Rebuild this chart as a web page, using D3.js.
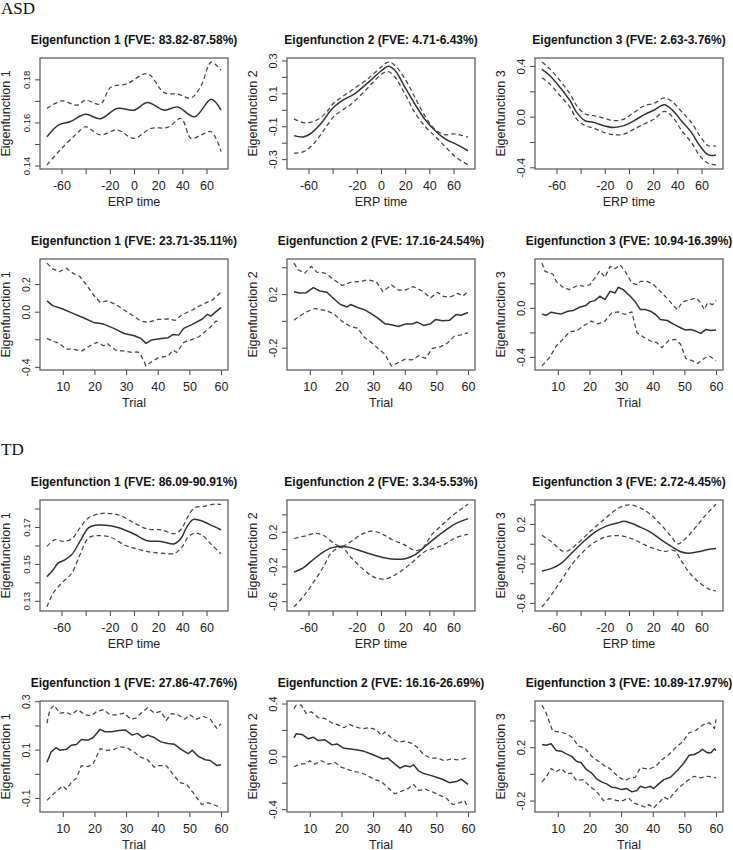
<!DOCTYPE html>
<html><head><meta charset="utf-8">
<script src="https://cdn.jsdelivr.net/npm/d3@7"></script>
<style>body{margin:0;background:#fff} svg{display:block}</style>
</head><body><svg id="c" width="733" height="850"></svg>
<script>
// ---------- titles / labels ----------
const groupNames = ["ASD", "TD"];
const asdErpTitles = ["Eigenfunction 1 (FVE: 83.82-87.58%)", "Eigenfunction 2 (FVE: 4.71-6.43%)", "Eigenfunction 3 (FVE: 2.63-3.76%)"];
const asdTrialTitles = ["Eigenfunction 1 (FVE: 23.71-35.11%)", "Eigenfunction 2 (FVE: 17.16-24.54%)", "Eigenfunction 3 (FVE: 10.94-16.39%)"];
const tdErpTitles = ["Eigenfunction 1 (FVE: 86.09-90.91%)", "Eigenfunction 2 (FVE: 3.34-5.53%)", "Eigenfunction 3 (FVE: 2.72-4.45%)"];
const tdTrialTitles = ["Eigenfunction 1 (FVE: 27.86-47.76%)", "Eigenfunction 2 (FVE: 16.16-26.69%)", "Eigenfunction 3 (FVE: 10.89-17.97%)"];
const yAxisLabels = ["Eigenfunction 1", "Eigenfunction 2", "Eigenfunction 3"];
const xAxisLabels = ["ERP time", "Trial"];

// ---------- tick values / labels ----------
const erpTicks = [-60, -40, -20, 0, 20, 40, 60];
const erpTickLabels = ["-60", "", "-20", "0", "20", "40", "60"];
const trialTicks = [10, 20, 30, 40, 50, 60];
const trialTickLabels = ["10", "20", "30", "40", "50", "60"];

const yTicksAsdErp1 = [0.14, 0.15, 0.16, 0.17, 0.18], yLabAsdErp1 = ["0.14", "", "0.16", "", "0.18"];
const yTicksAsdErp2 = [-0.3, -0.2, -0.1, 0, 0.1, 0.2, 0.3], yLabAsdErp2 = ["-0.3", "", "-0.1", "", "0.1", "", "0.3"];
const yTicksAsdErp3 = [-0.4, -0.2, 0, 0.2, 0.4], yLabAsdErp3 = ["-0.4", "", "0.0", "", "0.4"];
const yTicksAsdTr1 = [-0.4, -0.2, 0, 0.2], yLabAsdTr1 = ["-0.4", "", "0.0", "0.2"];
const yTicksAsdTr2 = [-0.2, 0, 0.2, 0.4], yLabAsdTr2 = ["-0.2", "", "0.2", ""];
const yTicksAsdTr3 = [-0.4, -0.2, 0, 0.2], yLabAsdTr3 = ["-0.4", "", "0.0", ""];
const yTicksTdErp1 = [0.13, 0.14, 0.15, 0.16, 0.17, 0.18], yLabTdErp1 = ["0.13", "", "0.15", "", "0.17", ""];
const yTicksTdErp2 = [-0.6, -0.4, -0.2, 0, 0.2, 0.4], yLabTdErp2 = ["-0.6", "", "-0.2", "", "0.2", ""];
const yTicksTdErp3 = [-0.6, -0.4, -0.2, 0, 0.2, 0.4], yLabTdErp3 = ["-0.6", "", "-0.2", "", "0.2", ""];
const yTicksTdTr1 = [-0.1, 0, 0.1, 0.2, 0.3], yLabTdTr1 = ["-0.1", "", "0.1", "", "0.3"];
const yTicksTdTr2 = [-0.4, -0.2, 0, 0.2, 0.4], yLabTdTr2 = ["-0.4", "", "0.0", "", "0.4"];
const yTicksTdTr3 = [-0.2, 0, 0.2, 0.4], yLabTdTr3 = ["-0.2", "", "0.2", ""];

// ---------- ASD, ERP time ----------
const asdErp1Mean = [[-72,0.1534],[-62.5,0.1588],[-53,0.1603],[-40.3,0.1638],[-27.8,0.1617],[-13.9,0.1665],[0,0.1657],[11.1,0.1692],[25,0.1657],[36.1,0.1672],[50,0.1626],[63.9,0.1708],[72,0.1657]];
const asdErp1Upper = [[-72,0.1665],[-59.7,0.170],[-47.2,0.168],[-40.3,0.1703],[-27.8,0.1685],[-19.4,0.1762],[-5.6,0.178],[11.1,0.1826],[25,0.1738],[36.1,0.1731],[47.2,0.1714],[55.6,0.1772],[63.9,0.188],[72,0.1842]];
const asdErp1Lower = [[-72,0.1403],[-61.1,0.1472],[-47.2,0.1549],[-40.3,0.158],[-27.8,0.1542],[-13.9,0.1565],[0,0.1526],[13.9,0.1572],[27.8,0.1577],[38.9,0.1618],[47.2,0.1526],[55.6,0.1542],[63.9,0.1557],[72,0.1465]];

const asdErp2Mean = [[-72,-0.157],[-64.6,-0.165],[-57.4,-0.14],[-49.1,-0.079],[-40.8,0.003],[-32.6,0.054],[-21.5,0.099],[-10.5,0.167],[0.6,0.239],[6.1,0.265],[11.6,0.239],[19.9,0.136],[28.1,0.034],[36.4,-0.059],[44.7,-0.126],[53,-0.177],[61.2,-0.206],[72,-0.249]];
const asdErp2Upper = [[-72,-0.055],[-63.4,-0.079],[-55.2,-0.069],[-46.9,-0.028],[-38.6,0.044],[-24.8,0.116],[-10.5,0.191],[0.6,0.263],[6.1,0.29],[11.6,0.27],[19.9,0.187],[28.1,0.075],[36.4,-0.038],[44.7,-0.12],[53,-0.151],[61.2,-0.147],[72,-0.167]];
const asdErp2Lower = [[-72,-0.264],[-63.4,-0.253],[-55.2,-0.202],[-46.9,-0.12],[-38.6,-0.038],[-24.8,0.034],[-10.5,0.136],[0.6,0.218],[6.1,0.232],[11.6,0.198],[19.9,0.095],[28.1,-0.018],[36.4,-0.1],[44.7,-0.161],[53,-0.223],[61.2,-0.284],[72,-0.335]];

const asdErp3Time = [-72,-65.6,-57.2,-48.8,-43.3,-36.3,-29.3,-20.9,-12.6,-4.2,4.2,12.6,20.9,29.3,36.3,43.3,51.6,58.6,65.6,72];
const asdErp3Mean = [0.373,0.325,0.233,0.127,0.034,-0.032,-0.045,-0.071,-0.085,-0.071,-0.032,0.016,0.053,0.095,0.048,-0.032,-0.124,-0.23,-0.302,-0.302];
const asdErp3Upper = [0.431,0.378,0.286,0.18,0.087,0.021,0.008,-0.011,-0.032,-0.019,0.034,0.087,0.106,0.148,0.114,0.042,-0.045,-0.151,-0.23,-0.23];
const asdErp3Lower = [0.307,0.259,0.167,0.074,-0.019,-0.071,-0.09,-0.124,-0.143,-0.138,-0.098,-0.058,-0.019,0.042,-0.005,-0.106,-0.204,-0.31,-0.37,-0.381];

// ---------- ASD, Trial ----------
const asdTr1Mean = [[5,0.078],[6.8,0.044],[10,0.019],[13.2,-0.012],[16.5,-0.044],[19.7,-0.078],[22.9,-0.09],[26.1,-0.121],[29.4,-0.158],[32.6,-0.175],[34.7,-0.194],[36.3,-0.23],[38,-0.206],[41.2,-0.194],[43.3,-0.189],[44.9,-0.165],[46.6,-0.17],[48.2,-0.121],[50.9,-0.092],[54.1,-0.053],[55.7,-0.019],[56.8,-0.032],[58.4,0.0],[60,0.029]];
const asdTr1Upper = [[5,0.352],[6.8,0.31],[8.9,0.29],[11.1,0.315],[13.2,0.279],[15.4,0.255],[17.5,0.194],[19.7,0.121],[21.8,0.068],[24,0.078],[26.7,0.053],[29.4,0.012],[32.6,-0.036],[34.7,-0.068],[36.9,-0.078],[40.1,-0.056],[43.3,-0.053],[45.5,-0.063],[47.6,-0.024],[50.9,0.012],[54.1,0.053],[57.3,0.085],[60,0.141]];
const asdTr1Lower = [[5,-0.194],[6.8,-0.213],[8.9,-0.23],[11.1,-0.272],[13.2,-0.272],[15.9,-0.286],[18.6,-0.247],[20.8,-0.223],[22.9,-0.247],[24,-0.23],[26.7,-0.279],[29.4,-0.286],[32,-0.296],[33.7,-0.291],[34.7,-0.315],[36.3,-0.393],[38,-0.364],[40.1,-0.335],[43.3,-0.32],[44.9,-0.279],[46,-0.296],[48.2,-0.223],[50.3,-0.206],[53,-0.182],[56.2,-0.121],[58.4,-0.068],[60,-0.078]];

const asdTr2Mean = [[5,0.218],[6.8,0.208],[8.9,0.21],[11.1,0.248],[13.2,0.223],[15.4,0.213],[17.5,0.167],[19.7,0.122],[21.8,0.104],[22.9,0.122],[25.1,0.1],[27.2,0.084],[29.4,0.054],[31.5,0.021],[33.7,-0.021],[35.8,-0.029],[38,-0.042],[40.1,-0.024],[42.3,-0.024],[43.9,-0.009],[46,-0.034],[48.2,-0.021],[49.8,0.011],[51.9,0.001],[54.1,0.004],[56.2,0.047],[57.8,0.042],[60,0.062]];
const asdTr2Upper = [[5,0.431],[6.3,0.381],[8.4,0.356],[10.5,0.406],[12.2,0.364],[14.8,0.356],[17.5,0.311],[20.2,0.263],[22.9,0.288],[25.6,0.293],[28.3,0.306],[31,0.293],[33.1,0.218],[35.8,0.268],[38,0.23],[40.1,0.23],[42.8,0.255],[45.5,0.223],[48.2,0.172],[50.3,0.213],[52.5,0.18],[54.6,0.18],[56.8,0.205],[58.4,0.185],[60,0.218]];
const asdTr2Lower = [[5,0.004],[6.8,0.036],[8.9,0.067],[11.6,0.092],[14.8,0.079],[17.5,0.054],[20.2,-0.004],[22.9,-0.042],[25.1,-0.054],[27.2,-0.122],[29.4,-0.16],[31.5,-0.205],[33.7,-0.248],[35.8,-0.336],[38,-0.311],[40.1,-0.286],[42.3,-0.291],[44.4,-0.26],[46.6,-0.28],[48.7,-0.205],[51.4,-0.192],[53.5,-0.165],[55.7,-0.114],[57.8,-0.104],[60,-0.089]];

const asdTr3Mean = [[5,-0.049],[6.3,-0.062],[7.9,-0.035],[9.5,-0.043],[11.1,-0.049],[13.2,-0.027],[14.8,-0.022],[16.9,0.005],[19,0.022],[20.1,0.049],[21.7,0.059],[23.3,0.095],[24.9,0.068],[26.5,0.135],[28.1,0.122],[29.1,0.168],[30.7,0.149],[32.9,0.095],[34.5,0.049],[36.1,-0.014],[37.7,-0.014],[39.3,-0.027],[40.9,-0.054],[42.4,-0.095],[44.6,-0.103],[46.7,-0.135],[48.8,-0.162],[50.4,-0.181],[52,-0.176],[53.6,-0.189],[55.2,-0.208],[56.8,-0.176],[58.4,-0.184],[60,-0.181]];
const asdTr3Upper = [[5,0.365],[6,0.297],[8.4,0.276],[9.5,0.216],[11.6,0.168],[13.7,0.149],[16.4,0.184],[18.5,0.176],[20.1,0.189],[21.7,0.243],[23.3,0.303],[24.9,0.249],[26.5,0.338],[28.1,0.319],[29.7,0.351],[31.3,0.297],[33.4,0.203],[35,0.189],[36.1,0.216],[38.2,0.216],[40.3,0.189],[42.4,0.135],[44.6,0.076],[46.7,0.014],[47.8,-0.014],[49.4,0.049],[52,0.068],[53.6,0.081],[55.2,0.041],[56.3,-0.014],[57.3,0.041],[58.9,0.027],[60,0.059]];
const asdTr3Lower = [[5,-0.473],[7.4,-0.405],[9.5,-0.311],[11.6,-0.257],[13.7,-0.195],[15.9,-0.189],[18,-0.149],[20.6,-0.108],[22.8,-0.13],[24.9,-0.108],[27,-0.041],[29.1,-0.032],[31.3,-0.054],[33.4,-0.032],[35,-0.203],[37.1,-0.238],[39.3,-0.27],[41.3,-0.284],[42.9,-0.324],[45.1,-0.265],[47.2,-0.257],[48.8,-0.297],[50.4,-0.411],[52.6,-0.432],[54.1,-0.454],[56.3,-0.411],[57.9,-0.392],[60,-0.432]];

// ---------- TD, ERP time ----------
const tdErp1Mean = [[-72,0.1431],[-67,0.1467],[-62.8,0.1504],[-57.2,0.1522],[-51.6,0.1549],[-44.7,0.1622],[-37.7,0.1695],[-32.1,0.1709],[-19.5,0.1707],[-11.2,0.1693],[0,0.1662],[11.2,0.1625],[22.3,0.1622],[33.5,0.1609],[39.1,0.164],[43.3,0.1695],[48.8,0.174],[54.4,0.1736],[62.8,0.1713],[72,0.1685]];
const tdErp1Upper = [[-72,0.1595],[-65.3,0.1631],[-58.6,0.1622],[-51.6,0.1635],[-44.7,0.1695],[-37.7,0.1749],[-27.9,0.1773],[-19.5,0.1773],[-11.2,0.1762],[0,0.1722],[11.2,0.1689],[22.3,0.1685],[33.5,0.1664],[39.1,0.1689],[44.7,0.1758],[50.2,0.1804],[58.6,0.1813],[67,0.1824],[72,0.1822]];
const tdErp1Lower = [[-72,0.1267],[-67,0.134],[-60,0.1395],[-51.6,0.1449],[-44.7,0.1549],[-37.7,0.164],[-30.7,0.1653],[-19.5,0.1645],[-8.4,0.1604],[0,0.1585],[11.2,0.1567],[22.3,0.1558],[33.5,0.1558],[39.1,0.1585],[44.7,0.1645],[50.2,0.1667],[55.8,0.1658],[64.2,0.1604],[72,0.1555]];

const tdErp2Mean = [[-72,-0.266],[-64.7,-0.219],[-57.8,-0.142],[-49.4,-0.049],[-41.1,0.014],[-32.8,0.033],[-24.4,0.014],[-13.3,-0.037],[-2.2,-0.083],[8.9,-0.115],[20,-0.111],[28.3,-0.064],[36.7,0.033],[45,0.13],[53.3,0.216],[61.7,0.293],[72,0.351]];
const tdErp2Upper = [[-72,0.122],[-63.3,0.15],[-53.6,0.181],[-46.7,0.15],[-38.3,0.06],[-32.8,0.03],[-24.4,0.091],[-16.1,0.169],[-7.8,0.208],[0.6,0.177],[8.9,0.111],[20,0.045],[28.3,-0.017],[33.9,0.006],[42.2,0.169],[50.6,0.278],[58.9,0.383],[72,0.518]];
const tdErp2Lower = [[-72,-0.666],[-63.3,-0.53],[-53.6,-0.336],[-46.7,-0.181],[-41.1,-0.045],[-32.8,0.02],[-24.4,-0.103],[-13.3,-0.25],[-5,-0.328],[3.3,-0.344],[11.7,-0.297],[20,-0.219],[28.3,-0.122],[36.7,-0.025],[45,0.014],[53.3,0.06],[61.7,0.13],[72,0.169]];

const tdErp3Mean = [[-72,-0.277],[-63.9,-0.25],[-55.6,-0.193],[-47.2,-0.092],[-38.9,0.008],[-29.2,0.109],[-19.4,0.176],[-9.7,0.21],[-4.2,0.227],[1.4,0.21],[9.7,0.166],[18.1,0.116],[26.4,0.042],[34.7,-0.025],[41.7,-0.076],[48.6,-0.096],[56.9,-0.082],[65.3,-0.059],[72,-0.049]];
const tdErp3Upper = [[-72,0.086],[-63.9,0.018],[-55.6,-0.069],[-51.4,-0.076],[-43.1,-0.003],[-31.9,0.126],[-20.8,0.244],[-9.7,0.355],[0,0.395],[9.7,0.361],[18.1,0.294],[26.4,0.193],[34.7,0.076],[40.3,-0.002],[45.8,0.042],[54.2,0.153],[62.5,0.277],[72,0.402]];
const tdErp3Lower = [[-72,-0.64],[-63.9,-0.513],[-55.6,-0.361],[-47.2,-0.21],[-38.9,-0.092],[-29.2,0.008],[-19.4,0.069],[-12.5,0.082],[-4.2,0.076],[4.2,0.042],[12.5,-0.008],[20.8,-0.049],[29.2,-0.076],[37.5,-0.069],[43.1,-0.17],[50,-0.294],[58.3,-0.395],[66.7,-0.462],[72,-0.479]];

// ---------- TD, Trial ----------
const tdTr1Mean = [[5,0.048],[6.3,0.09],[7.9,0.108],[9.1,0.097],[11.1,0.101],[12.7,0.118],[14.3,0.121],[15.9,0.142],[18,0.139],[19.6,0.15],[21.8,0.184],[23.3,0.174],[25.5,0.174],[27.7,0.179],[29.8,0.181],[31.9,0.16],[33.6,0.167],[35.2,0.15],[36.8,0.16],[38.9,0.15],[41,0.132],[43.2,0.125],[45.3,0.122],[47.5,0.1],[49.6,0.083],[50.9,0.097],[52.8,0.072],[55,0.058],[56.6,0.055],[58.7,0.034],[60,0.037]];
const tdTr1Upper = [[5,0.209],[5.9,0.265],[7.3,0.284],[9,0.251],[11.1,0.254],[12.7,0.244],[14.8,0.265],[17,0.244],[19,0.24],[20.7,0.258],[22.8,0.265],[25,0.244],[27.1,0.244],[29.3,0.251],[31.4,0.226],[33,0.23],[34.6,0.249],[36.8,0.273],[38.9,0.251],[41,0.258],[42.7,0.221],[44.3,0.249],[46.4,0.244],[48.5,0.226],[50.1,0.244],[52.3,0.226],[54.4,0.237],[56.6,0.226],[58.7,0.188],[60,0.207]];
const tdTr1Lower = [[5,-0.11],[7.5,-0.078],[10,-0.05],[11.1,-0.064],[12.7,-0.036],[14.3,-0.018],[15.9,0.034],[18,0.03],[19.6,0.041],[21.8,0.104],[23.9,0.097],[26,0.1],[28.1,0.111],[30.3,0.108],[32.5,0.09],[34.6,0.069],[36.8,0.058],[38.9,0.027],[40.5,0.034],[42.7,0.034],[44.8,-0.001],[46.9,-0.036],[49.1,-0.043],[51.2,-0.078],[53.9,-0.127],[56,-0.12],[58.2,-0.13],[60,-0.141]];

const tdTr2Mean = [[5,0.14],[5.7,0.171],[7.8,0.163],[9.5,0.133],[11.1,0.145],[12.7,0.12],[14.8,0.125],[17,0.087],[18.6,0.094],[20.8,0.061],[22.9,0.056],[25.1,0.048],[27.2,0.038],[29.4,0.018],[31.5,-0.003],[33.1,-0.02],[34.7,-0.013],[36.9,-0.059],[38.5,-0.089],[40.1,-0.071],[41.7,-0.079],[42.8,-0.064],[44.4,-0.11],[46,-0.13],[47.6,-0.14],[49.8,-0.156],[51.9,-0.173],[54.1,-0.199],[56.2,-0.191],[57.8,-0.173],[60,-0.212]];
const tdTr2Upper = [[5,0.362],[5.7,0.388],[7.3,0.388],[8.9,0.324],[10.5,0.337],[12.7,0.293],[14.8,0.286],[17,0.253],[18.6,0.242],[20.8,0.217],[22.4,0.242],[24.5,0.222],[26.7,0.209],[28.9,0.217],[31,0.202],[32.6,0.158],[33.7,0.184],[35.8,0.14],[38,0.107],[40.1,0.115],[42.3,0.099],[43.9,0.069],[46,0.013],[48.2,-0.013],[50.3,-0.013],[52.5,-0.033],[54.6,-0.02],[56.8,-0.026],[58.4,-0.02],[60,-0.008]];
const tdTr2Lower = [[5,-0.079],[6.8,-0.059],[8.9,-0.054],[10,-0.033],[11.6,-0.059],[13.7,-0.033],[15.9,-0.059],[18,-0.046],[19.7,-0.079],[21.8,-0.097],[24,-0.115],[26.1,-0.122],[28.3,-0.148],[30.4,-0.173],[32.6,-0.191],[34.7,-0.237],[36.9,-0.283],[39,-0.263],[41.2,-0.242],[42.8,-0.212],[44.4,-0.258],[46.6,-0.25],[48.7,-0.268],[50.9,-0.293],[53,-0.314],[55.2,-0.365],[57.3,-0.352],[58.9,-0.334],[60,-0.39]];

const tdTr3Mean = [[5,0.22],[6.3,0.215],[7.9,0.225],[9.5,0.175],[11.1,0.17],[12.7,0.15],[14.3,0.133],[15.9,0.095],[17.4,0.083],[19,0.033],[20.6,0.008],[22.2,-0.035],[23.8,-0.06],[25.4,-0.075],[27,-0.1],[28.6,-0.105],[30.2,-0.118],[31.8,-0.11],[33.4,-0.135],[35,-0.125],[36.1,-0.093],[37.7,-0.105],[39.3,-0.093],[40.3,-0.11],[41.9,-0.075],[43.5,-0.043],[45.6,-0.025],[47.8,0.025],[49.9,0.083],[51.5,0.14],[53.1,0.145],[54.7,0.165],[55.7,0.183],[57.3,0.158],[58.4,0.158],[59.5,0.188],[60,0.175]];
const tdTr3Upper = [[5,0.515],[6.3,0.458],[8.4,0.32],[10.5,0.315],[12.7,0.3],[14.8,0.27],[16.4,0.208],[18.5,0.195],[20.6,0.133],[22.8,0.095],[24.9,0.058],[26.5,0.04],[28.1,0.0],[29.7,-0.03],[31.3,-0.05],[32.9,-0.03],[34.5,-0.025],[36.1,0.045],[37.7,0.04],[39.3,0.04],[41,0.058],[43,0.108],[45.1,0.145],[47.2,0.195],[49.4,0.24],[51.5,0.308],[53.6,0.325],[55.7,0.365],[57.9,0.383],[59.5,0.34],[60,0.408]];
const tdTr3Lower = [[5,-0.06],[6.3,-0.025],[7.9,0.04],[9.5,0.015],[11.1,0.04],[12.7,0.0],[14.3,0.005],[15.9,-0.05],[18,-0.043],[20.1,-0.093],[22.2,-0.13],[24.4,-0.2],[26.5,-0.185],[28.6,-0.2],[30.7,-0.2],[32.3,-0.18],[33.9,-0.218],[36.1,-0.235],[37.7,-0.25],[38.7,-0.23],[40.3,-0.255],[41.9,-0.218],[43.5,-0.175],[45.1,-0.193],[46.7,-0.143],[48.8,-0.093],[51,-0.05],[53.1,-0.018],[55.2,-0.03],[57.3,-0.018],[58.9,-0.025],[60,-0.03]];

// ---------- assemble panels ----------
const zip = (xs, ys) => xs.map((v, i) => [v, ys[i]]);
const erpX = {ticks: erpTicks, labels: erpTickLabels, title: xAxisLabels[0], smooth: true};
const trX = {ticks: trialTicks, labels: trialTickLabels, title: xAxisLabels[1], smooth: false};

const panels = [
  {row:0,col:0,title:asdErpTitles[0],xa:erpX,yt:yTicksAsdErp1,yl:yLabAsdErp1,ys:9.5,series:[asdErp1Mean,asdErp1Upper,asdErp1Lower]},
  {row:0,col:1,title:asdErpTitles[1],xa:erpX,yt:yTicksAsdErp2,yl:yLabAsdErp2,ys:11,series:[asdErp2Mean,asdErp2Upper,asdErp2Lower]},
  {row:0,col:2,title:asdErpTitles[2],xa:erpX,yt:yTicksAsdErp3,yl:yLabAsdErp3,ys:11.5,series:[zip(asdErp3Time,asdErp3Mean),zip(asdErp3Time,asdErp3Upper),zip(asdErp3Time,asdErp3Lower)]},
  {row:1,col:0,title:asdTrialTitles[0],xa:trX,yt:yTicksAsdTr1,yl:yLabAsdTr1,ys:10.5,series:[asdTr1Mean,asdTr1Upper,asdTr1Lower]},
  {row:1,col:1,title:asdTrialTitles[1],xa:trX,yt:yTicksAsdTr2,yl:yLabAsdTr2,ys:11,series:[asdTr2Mean,asdTr2Upper,asdTr2Lower]},
  {row:1,col:2,title:asdTrialTitles[2],xa:trX,yt:yTicksAsdTr3,yl:yLabAsdTr3,ys:11,series:[asdTr3Mean,asdTr3Upper,asdTr3Lower]},
  {row:2,col:0,title:tdErpTitles[0],xa:erpX,yt:yTicksTdErp1,yl:yLabTdErp1,ys:9.5,series:[tdErp1Mean,tdErp1Upper,tdErp1Lower]},
  {row:2,col:1,title:tdErpTitles[1],xa:erpX,yt:yTicksTdErp2,yl:yLabTdErp2,ys:11,series:[tdErp2Mean,tdErp2Upper,tdErp2Lower]},
  {row:2,col:2,title:tdErpTitles[2],xa:erpX,yt:yTicksTdErp3,yl:yLabTdErp3,ys:11,series:[tdErp3Mean,tdErp3Upper,tdErp3Lower]},
  {row:3,col:0,title:tdTrialTitles[0],xa:trX,yt:yTicksTdTr1,yl:yLabTdTr1,ys:10.5,series:[tdTr1Mean,tdTr1Upper,tdTr1Lower]},
  {row:3,col:1,title:tdTrialTitles[1],xa:trX,yt:yTicksTdTr2,yl:yLabTdTr2,ys:11,series:[tdTr2Mean,tdTr2Upper,tdTr2Lower]},
  {row:3,col:2,title:tdTrialTitles[2],xa:trX,yt:yTicksTdTr3,yl:yLabTdTr3,ys:11,series:[tdTr3Mean,tdTr3Upper,tdTr3Lower]}
];

// ---------- layout ----------
const colLeft = [40, 287, 535], boxW = 188;
const rowTop = [58, 259, 500, 701], boxH = 111;
const FONT = "'Liberation Sans', Arial, Helvetica, sans-serif";
const SERIF = "'Liberation Serif', 'Times New Roman', serif";
const svg = d3.select("#c");

svg.append("text").attr("x", 1).attr("y", 13.5).text(groupNames[0])
  .attr("font-family", SERIF).attr("font-size", 17).attr("fill", "#111");
svg.append("text").attr("x", 1).attr("y", 455).text(groupNames[1])
  .attr("font-family", SERIF).attr("font-size", 17).attr("fill", "#111");

const padExt = e => { const r = e[1] - e[0]; return [e[0] - 0.04 * r, e[1] + 0.04 * r]; };

panels.forEach(p => {
  const x0 = colLeft[p.col], y0 = rowTop[p.row];
  const all = p.series.flat();
  const x = d3.scaleLinear().domain(padExt(d3.extent(all, d => d[0]))).range([x0, x0 + boxW]);
  const y = d3.scaleLinear().domain(padExt(d3.extent(all, d => d[1]))).range([y0 + boxH, y0]);
  const g = svg.append("g");

  const gx = g.append("g").attr("transform", `translate(0,${y0 + boxH})`)
    .call(d3.axisBottom(x).tickValues(p.xa.ticks).tickFormat((d, i) => p.xa.labels[i]).tickSize(5).tickPadding(7));
  gx.select(".domain").remove();
  gx.selectAll("line").attr("stroke", "#444");
  gx.selectAll("text").attr("font-family", FONT).attr("font-size", 12.5).attr("fill", "#222");

  const gy = g.append("g").attr("transform", `translate(${x0},0)`)
    .call(d3.axisLeft(y).tickValues(p.yt).tickFormat((d, i) => p.yl[i]).tickSize(5));
  gy.select(".domain").remove();
  gy.selectAll("line").attr("stroke", "#444");
  gy.selectAll("text").attr("x", null).attr("dy", null)
    .attr("transform", "translate(-10.5,0) rotate(-90)").attr("text-anchor", "middle")
    .attr("font-family", FONT).attr("font-size", p.ys).attr("fill", "#222");

  g.append("rect").attr("x", x0).attr("y", y0).attr("width", boxW).attr("height", boxH)
    .attr("fill", "none").attr("stroke", "#555").attr("stroke-width", 1.2);

  const line = d3.line().x(d => x(d[0])).y(d => y(d[1]))
    .curve(p.xa.smooth ? d3.curveCatmullRom.alpha(0.5) : d3.curveLinear);
  p.series.forEach((s, i) => {
    g.append("path").attr("d", line(s)).attr("fill", "none")
      .attr("stroke", i === 0 ? "#333" : "#444")
      .attr("stroke-width", i === 0 ? 1.5 : 1.25)
      .attr("stroke-linejoin", "round")
      .attr("stroke-dasharray", i === 0 ? null : "4.5,3");
  });

  g.append("text").attr("x", x0 + boxW / 2).attr("y", y0 - 14).attr("text-anchor", "middle")
    .attr("font-family", FONT).attr("font-weight", "bold").attr("font-size", 12).attr("fill", "#111").text(p.title);
  g.append("text").attr("x", x0 + boxW / 2).attr("y", y0 + boxH + 36.5).attr("text-anchor", "middle")
    .attr("font-family", FONT).attr("font-size", 12.5).attr("fill", "#222").text(p.xa.title);
  g.append("text").attr("transform", `translate(${x0 - 30},${y0 + boxH / 2}) rotate(-90)`).attr("text-anchor", "middle")
    .attr("font-family", FONT).attr("font-size", 12.5).attr("fill", "#222").text(yAxisLabels[p.col]);
});
</script></body></html>
